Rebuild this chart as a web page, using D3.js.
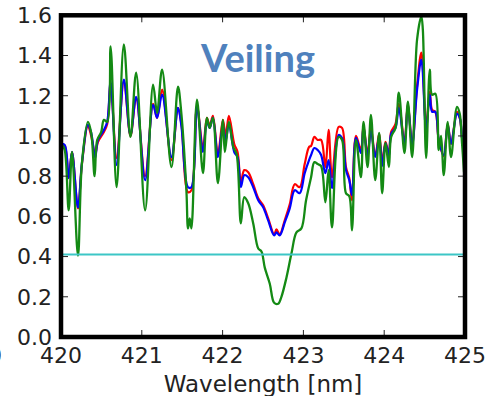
<!DOCTYPE html>
<html><head><meta charset="utf-8">
<script src="https://cdn.jsdelivr.net/npm/d3@7"></script>
<style>html,body{margin:0;padding:0;background:#fff;}svg{display:block;}</style>
</head><body>
<svg id="c" width="487" height="396"></svg>
<script>
const xTicks = [420, 421, 422, 423, 424, 425];
const yTicks = [0.0, 0.2, 0.4, 0.6, 0.8, 1.0, 1.2, 1.4, 1.6];
const title = "Veiling";
const xLabel = "Wavelength [nm]";

const greenWl = [420.000,420.019,420.046,420.095,420.136,420.210,420.259,420.333,420.374,420.416,420.448,420.498,420.531,420.572,420.614,420.688,420.778,420.860,420.930,421.041,421.140,421.189,421.251,421.367,421.448,421.490,421.552,421.572,421.593,421.614,421.683,421.757,421.806,421.840,421.880,421.942,422.004,422.028,422.078,422.132,422.173,422.226,422.268,422.317,422.379,422.441,422.481,422.522,422.584,422.638,422.688,422.728,422.790,422.852,422.914,422.975,423.033,423.095,423.136,423.177,423.219,423.272,423.312,423.354,423.436,423.478,423.527,423.568,423.601,423.651,423.712,423.744,423.794,423.836,423.889,423.938,423.975,424.016,424.058,424.086,424.140,424.181,424.251,424.293,424.346,424.407,424.460,424.478,424.519,424.564,424.593,424.633,424.675,424.704,424.737,424.786,424.827,424.901,424.935,424.963,424.988];
const greenVal = [0.72,0.95,0.93,0.63,0.92,0.405,0.865,1.07,1.015,0.80,0.98,1.02,1.08,1.07,1.445,0.745,1.455,0.995,1.315,0.63,1.255,1.115,1.33,0.845,1.245,1.11,0.73,0.54,0.59,0.54,1.18,0.815,1.09,1.04,1.09,0.765,1.08,0.92,1.07,0.945,0.91,0.565,0.695,0.665,0.565,0.44,0.425,0.345,0.265,0.17,0.165,0.20,0.295,0.415,0.52,0.54,0.68,0.795,0.87,0.86,0.85,0.67,0.83,0.545,0.995,0.98,0.715,0.70,0.53,0.98,0.795,1.07,0.845,1.105,0.78,1.015,0.715,0.965,0.845,0.995,1.04,1.215,0.915,1.17,0.895,1.48,1.595,1.53,0.89,1.33,1.205,1.21,0.93,1.0,0.805,1.07,0.895,1.145,1.11,0.965,0.82];

const rbWl = [420.000,420.046,420.095,420.136,420.210,420.259,420.333,420.374,420.423,420.457,420.531,420.572,420.614,420.688,420.778,420.860,420.930,421.041,421.140,421.189,421.251,421.367,421.448,421.490,421.572,421.614,421.683,421.757,421.806,421.840,421.880,421.942,422.004,422.037,422.078,422.144,422.185,422.226,422.268,422.317,422.379,422.441,422.502,422.564,422.638,422.667,422.707,422.769,422.831,422.893,422.954,423.016,423.070,423.095,423.136,423.177,423.219,423.272,423.312,423.354,423.436,423.478,423.527,423.568,423.601,423.651,423.712,423.744,423.794,423.836,423.889,423.938,423.975,424.016,424.058,424.086,424.140,424.181,424.251,424.293,424.346,424.407,424.460,424.519,424.564,424.593,424.633,424.675,424.737,424.786,424.827,424.901,424.935,424.963,424.988];
const blueVal = [0.96,0.955,0.79,0.92,0.645,0.865,1.055,1.015,0.89,0.98,1.03,1.07,1.27,0.855,1.28,1.005,1.195,0.78,1.155,1.09,1.205,0.895,1.14,1.05,0.745,0.745,1.145,0.92,1.07,1.04,1.09,0.895,1.05,0.975,1.06,0.92,0.895,0.745,0.805,0.795,0.745,0.68,0.645,0.58,0.505,0.52,0.505,0.57,0.64,0.73,0.715,0.815,0.88,0.905,0.94,0.93,0.905,0.815,0.88,0.74,1.005,0.99,0.83,0.78,0.705,0.99,0.915,1.045,0.895,1.025,0.895,0.995,0.85,0.965,0.90,1.01,1.04,1.14,0.96,1.155,0.955,1.23,1.38,1.03,1.205,1.12,1.12,0.98,0.905,1.055,0.96,1.11,1.09,0.99,0.92];
const redVal = [0.96,0.95,0.79,0.92,0.64,0.86,1.05,1.0,0.91,0.97,1.02,1.06,1.26,0.89,1.27,1.0,1.19,0.80,1.16,1.09,1.23,0.88,1.14,1.06,0.72,0.73,1.15,0.94,1.09,1.05,1.10,0.91,1.08,1.0,1.10,0.96,0.92,0.77,0.83,0.82,0.76,0.69,0.655,0.59,0.51,0.535,0.51,0.58,0.66,0.76,0.745,0.86,0.945,0.95,0.995,0.98,0.98,0.845,1.03,0.795,1.045,1.04,0.845,0.79,0.68,1.0,0.93,1.05,0.91,1.04,0.90,1.01,0.87,0.97,0.91,1.02,1.06,1.16,0.97,1.16,0.96,1.25,1.415,1.05,1.22,1.13,1.12,0.98,0.90,1.06,0.96,1.12,1.09,0.99,0.92];

const cyanWl = [420, 425];
const cyanVal = [0.41, 0.41];

const svg = d3.select("#c");
const L = 61, R = 465, T = 15.3, B = 337;
const x = d3.scaleLinear().domain([420, 425]).range([L, R]);
const y = d3.scaleLinear().domain([0, 1.6]).range([B, T]);

svg.append("clipPath").attr("id","clp").append("rect")
  .attr("x", L).attr("y", T).attr("width", R-L).attr("height", B-T);

const line = d3.line().curve(d3.curveCatmullRom.alpha(0.5))
  .x(d => x(d[0])).y(d => y(d[1]));
const g = svg.append("g").attr("clip-path","url(#clp)");
const series = [
  {wl: rbWl, v: redVal, c: "#ff0000", w: 2.2},
  {wl: rbWl, v: blueVal, c: "#0000ff", w: 2.2},
  {wl: greenWl, v: greenVal, c: "#148a14", w: 2.3},
  {wl: cyanWl, v: cyanVal, c: "#3cc6c6", w: 2}
];
series.forEach(s => {
  g.append("path").datum(s.wl.map((w,i)=>[w, s.v[i]]))
    .attr("d", line).attr("fill","none").attr("stroke", s.c)
    .attr("stroke-width", s.w).attr("stroke-linejoin","round");
});

// ticks (inward, all sides)
const tl = 7;
const ax = svg.append("g").attr("stroke","#222").attr("stroke-width",1);
xTicks.forEach(t => {
  ax.append("line").attr("x1", x(t)).attr("x2", x(t)).attr("y1", B).attr("y2", B-tl);
  ax.append("line").attr("x1", x(t)).attr("x2", x(t)).attr("y1", T).attr("y2", T+tl);
});
yTicks.forEach(t => {
  ax.append("line").attr("x1", L).attr("x2", L+tl).attr("y1", y(t)).attr("y2", y(t));
  ax.append("line").attr("x1", R).attr("x2", R-tl).attr("y1", y(t)).attr("y2", y(t));
});

// frame
svg.append("rect").attr("x", L).attr("y", T).attr("width", R-L).attr("height", B-T)
  .attr("fill","none").attr("stroke","#000").attr("stroke-width",4.5);

const font = "DejaVu Sans, sans-serif";
svg.append("g").selectAll("text").data(yTicks).join("text")
  .attr("x", 52).attr("y", d => y(d)).attr("dy","0.36em")
  .attr("text-anchor","end").attr("font-family",font).attr("font-size",22)
  .attr("fill","#222").text(d => d3.format(".1f")(d));
svg.append("g").selectAll("text").data(xTicks).join("text")
  .attr("x", d => x(d)).attr("y", 363)
  .attr("text-anchor","middle").attr("font-family",font).attr("font-size",22)
  .attr("fill","#222").text(d => d);
svg.append("text").attr("x", (L+R)/2).attr("y", 391.5).attr("text-anchor","middle")
  .attr("font-family",font).attr("font-size",23).attr("fill","#222").text(xLabel);
svg.append("text").attr("x", 2).attr("y", 363).attr("text-anchor","end")
  .attr("font-family",font).attr("font-size",22).attr("fill","#222").text("0");

svg.append("text").attr("x", 258).attr("y", 71.5).attr("text-anchor","middle")
  .attr("font-family","Lato, sans-serif").attr("font-weight","bold").attr("font-size",38)
  .attr("fill","#4f81bd").text(title);
</script>
</body></html>
